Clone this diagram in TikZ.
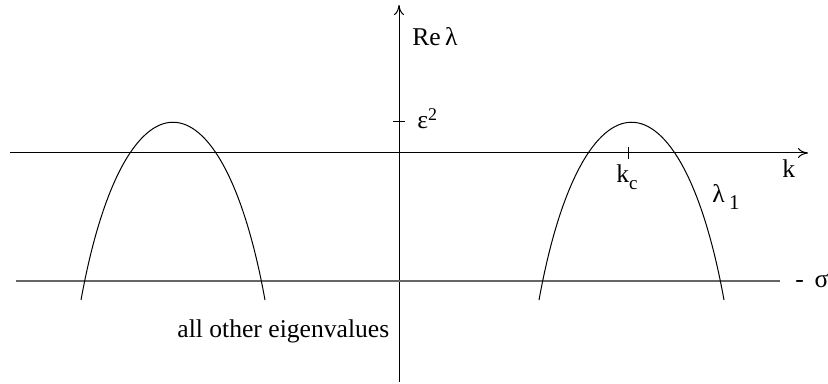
\documentclass[tikz,border=0pt]{standalone}
\usepackage{fontspec}
\setmainfont{Liberation Serif}
\usetikzlibrary{arrows.meta}
\tikzset{
  axis/.style={line width=0.5pt, draw=black, -{To[length=5pt,width=5pt]}},
  plainaxis/.style={line width=0.5pt, draw=black},
  level/.style={line width=0.7pt, draw=black!60},
  curve/.style={line width=0.5pt, draw=black},
  lbl/.style={inner sep=0pt, anchor=base west, font=\fontsize{12.8}{15}\selectfont}
}
\begin{document}
\begin{tikzpicture}[x=0.5pt, y=-0.5pt]
\useasboundingbox (0,0) rectangle (828,384);
% coordinates
\coordinate (kl) at (10,153);
\coordinate (kr) at (808,153);
\coordinate (vb) at (399,382);
\coordinate (vt) at (399,5);
\coordinate (sl) at (16,281);
\coordinate (sr) at (780,281);
% axes
\draw[axis] (kl) -- (kr);
\draw[axis] (vb) -- (vt);
\draw[level] (sl) -- (sr);
% ticks
\coordinate (e1) at (393,122);
\coordinate (e2) at (405,122);
\draw[plainaxis] (e1) -- (e2);
\coordinate (kc1) at (628,147);
\coordinate (kc2) at (628,159);
\draw[plainaxis] (kc1) -- (kc2);
% curves
\coordinate (a1) at (81,300);
\coordinate (a2) at (265,300);
\draw[curve] (a1) .. controls (124,63) and (222,63) .. (a2);
\coordinate (b1) at (539,300);
\coordinate (b2) at (724,300);
\draw[curve] (b1) .. controls (582,63) and (681,63) .. (b2);
% labels
\node[lbl] (re) at (412,46) {Re\,λ};
\node[lbl] (eps) at (417,129) {ε\textsuperscript{2}};
\node[lbl] (kcl) at (616,183) {k\raisebox{-3.5pt}{\fontsize{9.5}{10}\selectfont c}};
\node[lbl] (k) at (782,178) {k};
\node[lbl] (lam) at (712,203) {λ\,\raisebox{-3.5pt}{\fontsize{10.5}{11}\selectfont 1}};
\node[lbl] (sig) at (795,287) {-\, σ};
\node[lbl] (oth) at (177,337) {all other eigenvalues};
\end{tikzpicture}
\end{document}
